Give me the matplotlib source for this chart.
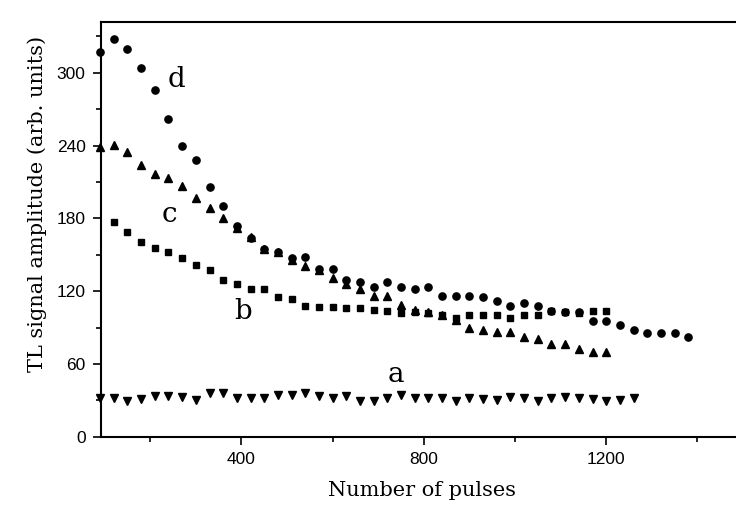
import numpy as np
import matplotlib.pyplot as plt
from matplotlib.ticker import MultipleLocator

# pulse counts (one reading every 30 pulses)
pulses_a = np.arange(90, 1261, 30)
pulses_b = np.arange(120, 1201, 30)
pulses_c = np.arange(90, 1201, 30)
pulses_d = np.arange(90, 1381, 30)

# TL signal amplitude, arb. units
tl_a = [31.6, 31.6, 29.4, 30.8, 33.5, 33.5, 33.0, 30.2, 35.7, 36.3,
        31.6, 31.6, 31.6, 34.1, 34.1, 35.7, 33.5, 31.6, 33.5, 29.4,
        29.4, 31.6, 34.1, 32.2, 31.6, 31.6, 29.4, 31.6, 30.8, 30.3,
        33.0, 31.7, 29.7, 31.7, 32.5, 31.7, 31.1, 29.7, 30.3, 32.2]
tl_b = [177.3, 169, 160.3, 155.8, 152, 147.6, 141.5, 137.4, 129.2, 125.9,
        121.5, 121.7, 115.4, 113.7, 107.5, 106.7, 106.7, 105.8, 105.8, 104.5,
        103.9, 101.7, 102.6, 101.7, 100.3, 97.6, 100.3, 100.3, 100.3, 97.6,
        100.3, 100.3, 103.9, 102.5, 101.7, 103.9, 103.9]
tl_c = [239, 240.5, 234.5, 224, 216.3, 213, 206.7, 197, 188.3, 180.5,
        172, 165, 155, 152, 146, 140.7, 137, 130.6, 126, 121.8,
        116, 115.7, 108.8, 104.5, 102.5, 100.3, 96, 89.9, 88.2, 86.2,
        86.2, 82, 80.3, 76.5, 76.8, 72.5, 70.1, 70.1]
tl_d = [317, 327.6, 319.6, 303.7, 285.6, 261.9, 239.9, 228.1, 206.1, 190,
        174, 164, 155, 152, 147.6, 147.8, 138, 138, 129, 127.8,
        123.7, 127.8, 123.7, 121.7, 123.7, 115.7, 115.7, 115.7, 115.4, 111.9,
        108, 110, 107.7, 103.9, 103, 103, 95.6, 95.6, 92, 88,
        85.7, 85.7, 85.7, 82.3]

curve_names = ['a', 'b', 'c', 'd']
name_pos = [(738, 45), (403, 97), (242, 177), (257, 288)]

fig = plt.figure(figsize=(7.36, 5.09), dpi=100)
ax = fig.add_axes([0.1372, 0.1420, 0.8723, 0.8153])

ax.plot(pulses_a, tl_a, 'v', color='black', ms=5.4, ls='none', clip_on=False)
ax.plot(pulses_b, tl_b, 's', color='black', ms=4.6, ls='none', clip_on=False)
ax.plot(pulses_c, tl_c, '^', color='black', ms=5.4, ls='none', clip_on=False)
ax.plot(pulses_d, tl_d, 'o', color='black', ms=5.2, ls='none', clip_on=False)

for name, (x, y) in zip(curve_names, name_pos):
    ax.text(x, y, name, fontsize=20, family='DejaVu Serif',
            ha='center', va='baseline')

ax.set_xlim(92, 1500)
ax.set_ylim(0, 342)
ax.xaxis.set_major_locator(MultipleLocator(400))
ax.xaxis.set_minor_locator(MultipleLocator(200))
ax.yaxis.set_major_locator(MultipleLocator(60))
ax.yaxis.set_minor_locator(MultipleLocator(30))
ax.tick_params(which='both', direction='out', width=1.2, labelsize=12.5,
               pad=5, top=False, right=False)
ax.tick_params(which='major', length=6)
ax.tick_params(which='minor', length=3.5)
for lbl in ax.get_xticklabels() + ax.get_yticklabels():
    lbl.set_family('Liberation Sans')
for sp in ax.spines.values():
    sp.set_linewidth(1.5)

ax.set_xlabel('Number of pulses', fontsize=15, family='DejaVu Serif', labelpad=10)
ax.set_ylabel('TL signal amplitude (arb. units)', fontsize=15,
              family='DejaVu Serif')
ax.yaxis.set_label_coords(-0.084, 0.562)

fig.savefig('out.png', dpi=100)
